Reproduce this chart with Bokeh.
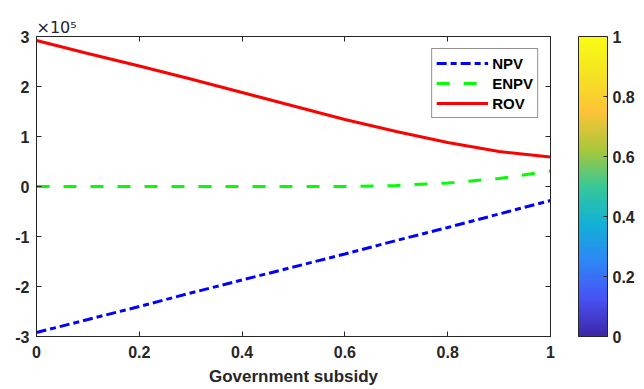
import numpy as np
from bokeh.plotting import figure
from bokeh.models import (ColorBar, LinearColorMapper, FixedTicker, Legend, LegendItem,
                          Range1d, LinearAxis)
from bokeh.embed import file_html
from bokeh.resources import INLINE

# ---- data ----
subsidy = [0.0, 0.1, 0.2, 0.3, 0.4, 0.5, 0.6, 0.7, 0.8, 0.9, 1.0]
npv = [-2.92e5, -2.66e5, -2.40e5, -2.13e5, -1.87e5, -1.61e5, -1.35e5, -1.08e5, -0.82e5, -0.55e5, -0.28e5]
enpv = [0.0, 0.0, 0.0, 0.0, 0.0, 0.0, 0.002e5, 0.02e5, 0.07e5, 0.16e5, 0.31e5]
rov = [2.92e5, 2.66e5, 2.41e5, 2.15e5, 1.88e5, 1.61e5, 1.34e5, 1.10e5, 0.88e5, 0.70e5, 0.59e5]
x_ticks = [0, 0.2, 0.4, 0.6, 0.8, 1]
x_labels = ["0", "0.2", "0.4", "0.6", "0.8", "1"]
y_ticks = [-3e5, -2e5, -1e5, 0, 1e5, 2e5, 3e5]
y_labels = ["-3", "-2", "-1", "0", "1", "2", "3"]
cb_ticks = [0, 0.2, 0.4, 0.6, 0.8, 1]
cb_labels = ["0", "0.2", "0.4", "0.6", "0.8", "1"]
exponent_text = "×10⁵"

# parula-like palette
anchors = np.array([
    [0.2422, 0.1504, 0.6603],
    [0.2810, 0.3228, 0.9579],
    [0.1786, 0.5289, 0.9682],
    [0.0689, 0.6948, 0.8394],
    [0.2161, 0.7843, 0.5923],
    [0.6720, 0.7793, 0.2227],
    [0.9970, 0.7659, 0.2199],
    [0.9598, 0.8903, 0.1303],
    [0.9769, 0.9839, 0.0805],
])
pos = np.linspace(0, 1, len(anchors))
t = np.linspace(0, 1, 256)
palette = []
for tt in t:
    rgb = [np.interp(tt, pos, anchors[:, k]) for k in range(3)]
    palette.append("#%02x%02x%02x" % tuple(int(round(c * 255)) for c in rgb))

FONT = "Liberation Sans"
INK = "#262626"

p = figure(width=640, height=388, output_backend="svg", toolbar_location=None,
           x_range=Range1d(0, 1), y_range=Range1d(-3e5, 3e5),
           min_border_left=36, min_border_top=36, min_border_right=90, min_border_bottom=51,
           title=exponent_text)
p.title.text_font = "DejaVu Sans"
p.title.text_font_size = "16px"
p.title.text_font_style = "normal"
p.title.text_color = INK
p.title.align = "left"
p.title.standoff = 0
p.grid.visible = False
p.outline_line_color = INK
p.outline_line_width = 1
p.background_fill_color = "white"

l1 = p.line(subsidy, npv, line_color="#0000ff", line_width=3, line_dash="10 4 6 4")
l2 = p.line(subsidy, enpv, line_color="#00ff00", line_width=3, line_dash="13 14")
l3 = p.line(subsidy, rov, line_color="#ff0000", line_width=3)

def style_axis(ax):
    ax.major_label_text_font = FONT
    ax.major_label_text_font_style = "bold"
    ax.major_label_text_font_size = "16px"
    ax.major_label_text_color = INK
    ax.axis_line_color = INK
    ax.major_tick_line_color = INK
    ax.major_tick_in = 5
    ax.major_tick_out = 0
    ax.minor_tick_line_color = None

style_axis(p.xaxis[0])
style_axis(p.yaxis[0])
p.xaxis.ticker = FixedTicker(ticks=x_ticks)
p.xaxis.major_label_overrides = {k: v for k, v in zip(x_ticks, x_labels)}
p.yaxis.ticker = FixedTicker(ticks=y_ticks)
p.yaxis.major_label_overrides = {k: v for k, v in zip(y_ticks, y_labels)}
p.xaxis.major_label_standoff = 9
p.yaxis.major_label_standoff = 7
p.xaxis.axis_label = "Government subsidy"
p.xaxis.axis_label_text_font = FONT
p.xaxis.axis_label_text_font_style = "bold"
p.xaxis.axis_label_text_font_size = "17px"
p.xaxis.axis_label_text_color = INK
p.xaxis.axis_label_standoff = 6

# mirrored axes (ticks only) on top and right
top_ax = LinearAxis(ticker=FixedTicker(ticks=x_ticks), major_label_standoff=0)
style_axis(top_ax)
top_ax.major_label_text_font_size = "1px"
top_ax.major_label_text_color = None
p.add_layout(top_ax, "above")
right_ax = LinearAxis(ticker=FixedTicker(ticks=y_ticks), major_label_standoff=0)
style_axis(right_ax)
right_ax.major_label_text_font_size = "1px"
right_ax.major_label_text_color = None
p.add_layout(right_ax, "right")

legend = Legend(items=[LegendItem(label="NPV", renderers=[l1]),
                       LegendItem(label="ENPV", renderers=[l2]),
                       LegendItem(label="ROV", renderers=[l3])],
                location="top_right", margin=12, padding=4, spacing=0,
                glyph_width=52, glyph_height=20, label_height=20, label_standoff=4,
                label_text_font=FONT, label_text_font_style="bold",
                label_text_font_size="15px", label_text_color="#000000",
                border_line_color=INK, border_line_width=1,
                background_fill_color="white", background_fill_alpha=1)
p.add_layout(legend)

mapper = LinearColorMapper(palette=palette, low=0, high=1)
cb = ColorBar(color_mapper=mapper, width=29, height=300, padding=0, margin=0,
              ticker=FixedTicker(ticks=cb_ticks),
              major_label_overrides={k: v for k, v in zip(cb_ticks, cb_labels)},
              major_label_text_font=FONT, major_label_text_font_style="bold",
              major_label_text_font_size="16px", major_label_text_color=INK,
              major_tick_line_color=INK, major_tick_in=4, major_tick_out=0,
              minor_tick_line_color=None, bar_line_color=INK,
              border_line_color=None, background_fill_color="white",
              label_standoff=5, location=(28, 0))
p.add_layout(cb, "right")

open("out.html", "w").write(file_html(p, INLINE))
